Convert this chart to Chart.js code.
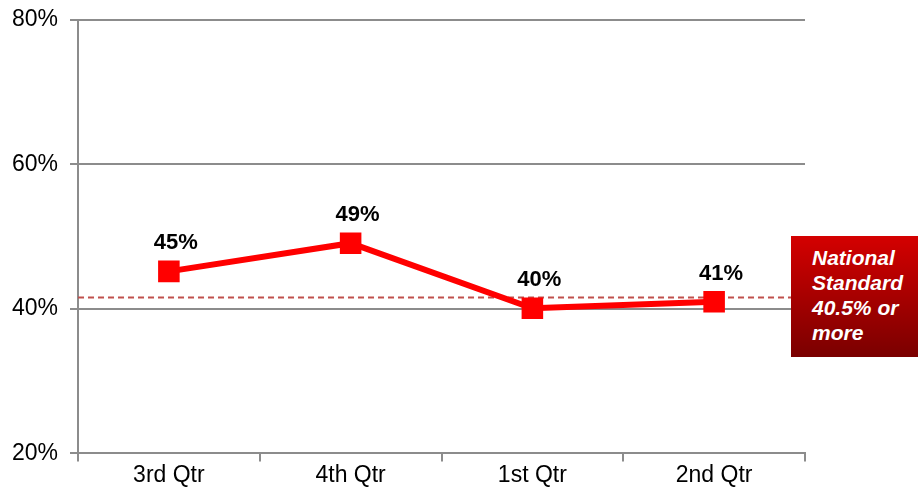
<!DOCTYPE html>
<html>
<head>
<meta charset="utf-8">
<script src="https://cdn.jsdelivr.net/npm/chart.js@4"></script>
<style>
  html, body { margin: 0; padding: 0; background: #fff; }
  #wrap { position: relative; width: 920px; height: 493px; }
  #note {
    position: absolute; left: 791px; top: 236px; width: 127px; height: 121px;
    box-sizing: border-box; padding: 9px 0 0 21px;
    background: linear-gradient(#d40000, #7a0000);
    color: #fff; font: italic bold 21px "Liberation Sans", Arial, sans-serif; line-height: 25px;
  }
</style>
</head>
<body>
<div id="wrap">
  <canvas id="lineChart" width="920" height="493"></canvas>
  <div id="note">National<br>Standard<br>40.5% or<br>more</div>
</div>
<script>
// chart values
const quarters = ['3rd Qtr', '4th Qtr', '1st Qtr', '2nd Qtr'];
const scores = [45.2, 49.1, 40.1, 41.0];
const scoreLabels = ['45%', '49%', '40%', '41%'];
const standardLevel = 41.6;
const yTicks = [20, 40, 60, 80];

// dashed standard line, drawn across the plot at standardLevel
const standardLine = {
  id: 'standardLine',
  beforeDatasetsDraw(chart) {
    const { ctx, chartArea, scales } = chart;
    const y = scales.y.getPixelForValue(standardLevel);
    ctx.save();
    ctx.strokeStyle = '#c0504d';
    ctx.lineWidth = 2;
    ctx.setLineDash([6, 4]);
    ctx.beginPath();
    ctx.moveTo(chartArea.left, y);
    ctx.lineTo(chartArea.right, y);
    ctx.stroke();
    ctx.restore();
  }
};

// bold value labels above each point
const valueLabels = {
  id: 'valueLabels',
  afterDatasetsDraw(chart) {
    const { ctx } = chart;
    const meta = chart.getDatasetMeta(0);
    ctx.save();
    ctx.font = 'bold 22px "Liberation Sans", Arial, sans-serif';
    ctx.fillStyle = '#000';
    ctx.textAlign = 'center';
    ctx.textBaseline = 'middle';
    meta.data.forEach((pt, i) => {
      ctx.fillText(scoreLabels[i], pt.x + 7, pt.y - 28);
    });
    ctx.restore();
  }
};

const ctx = document.getElementById('lineChart').getContext('2d');
new Chart(ctx, {
  type: 'line',
  data: {
    labels: quarters,
    datasets: [{
      data: scores,
      borderColor: '#ff0000',
      backgroundColor: '#ff0000',
      borderWidth: 6,
      pointStyle: 'rect',
      pointRadius: 11,
      pointHoverRadius: 11,
      tension: 0
    }]
  },
  options: {
    responsive: false,
    animation: false,
    events: [],
    layout: { padding: { top: 20, right: 115, left: 4, bottom: 4 } },
    plugins: {
      legend: { display: false },
      tooltip: { enabled: false }
    },
    scales: {
      x: {
        offset: true,
        grid: {
          offset: true,
          drawOnChartArea: false,
          drawTicks: true,
          tickLength: 8,
          color: '#8c8c8c',
          lineWidth: 2
        },
        border: { color: '#8c8c8c', width: 2 },
        ticks: {
          color: '#000',
          padding: 0,
          font: { family: '"Liberation Sans", Arial, sans-serif', size: 23 }
        }
      },
      y: {
        min: 20,
        max: 80,
        afterBuildTicks(axis) {
          axis.ticks = yTicks.map(v => ({ value: v }));
        },
        afterFit(axis) {
          axis.width = 74;
          axis.paddingTop = 0;
        },
        grid: {
          drawTicks: true,
          tickLength: 8,
          color: '#8c8c8c',
          lineWidth: 2
        },
        border: { color: '#8c8c8c', width: 2 },
        ticks: {
          color: '#000',
          padding: 12,
          callback: v => v + '%',
          font: { family: '"Liberation Sans", Arial, sans-serif', size: 23 }
        }
      }
    }
  },
  plugins: [standardLine, valueLabels]
});
</script>
</body>
</html>
